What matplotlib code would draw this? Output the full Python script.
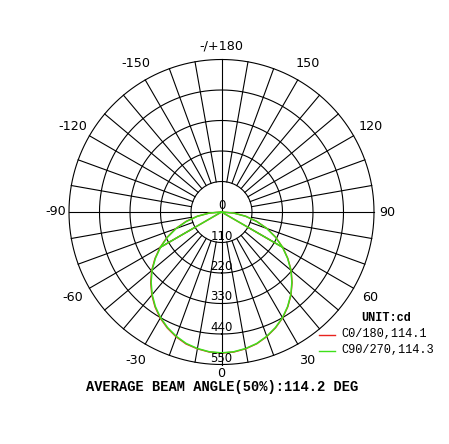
import numpy as np
import matplotlib
matplotlib.use("Agg")
import matplotlib.pyplot as plt

# ---- data ----
angles_deg = [-90, -85, -80, -75, -70, -65, -60, -55, -50, -45, -40, -35, -30, -25, -20, -15, -10, -5,
              0, 5, 10, 15, 20, 25, 30, 35, 40, 45, 50, 55, 60, 65, 70, 75, 80, 85, 90]
c90_values = [0, 44, 88, 131, 174, 215, 254, 291, 327, 359, 389, 416, 440, 460, 477, 491, 500, 506,
              508, 506, 500, 491, 477, 460, 440, 416, 389, 359, 327, 291, 254, 215, 174, 131, 88, 44, 0]
c0_values = [0, 45, 89, 133, 176, 217, 256, 293, 329, 361, 391, 418, 442, 462, 479, 493, 501, 507,
             509, 507, 501, 492, 478, 461, 441, 417, 390, 360, 328, 292, 255, 216, 175, 132, 89, 45, 0]
chord_angles = [-60, 0, 60]
c90_chord = [254, 0, 254]
c0_chord = [256, 0, 255]

ring_values = [110, 220, 330, 440, 550]
angle_labels = [0, 30, 60, 90, 120, 150, 180, -150, -120, -90, -60, -30]
angle_texts = ["0", "30", "60", "90", "120", "150", "-/+180", "-150", "-120", "-90", "-60", "-30"]
legend_names = ["C0/180,114.1", "C90/270,114.3"]
unit_text = "UNIT:cd"
footer = "AVERAGE BEAM ANGLE(50%):114.2 DEG"

RMAX = 550

fig = plt.figure(figsize=(4.49, 4.44), dpi=100)
fig.patch.set_facecolor("white")
ax = fig.add_axes([69 / 449, (232 - 152.5) / 444, 305 / 449, 305 / 444], projection="polar")
ax.set_theta_zero_location("S")
ax.set_theta_direction(1)
ax.set_rlim(0, RMAX)
ax.grid(False)
ax.set_xticks([])
ax.set_yticks([])
ax.spines["polar"].set_visible(False)
ax.patch.set_alpha(0)

grid_kw = dict(color="black", lw=0.8, clip_on=False, zorder=1)
th = np.linspace(0, 2 * np.pi, 721)
for r in ring_values:
    ax.plot(th, np.full_like(th, r), **grid_kw)
for d in range(0, 360, 10):
    t = np.deg2rad(d)
    if d % 90 == 0:
        ax.plot([t, t], [0, RMAX], **grid_kw)
    else:
        ax.plot([t, t], [ring_values[0], RMAX], **grid_kw)

# curves
ax.plot(np.deg2rad(angles_deg), c0_values, color="#e8231e", lw=1.0, clip_on=False, zorder=3)
ax.plot(np.deg2rad(chord_angles), c0_chord, color="#e8231e", lw=1.0, clip_on=False, zorder=3)
ax.plot(np.deg2rad(angles_deg), c90_values, color="#3ee01a", lw=1.1, clip_on=False, zorder=4)
ax.plot(np.deg2rad(chord_angles), c90_chord, color="#3ee01a", lw=1.1, clip_on=False, zorder=4)

# radial labels
ax.text(0, 0, "0", ha="center", va="bottom", fontsize=8.5, color="black", zorder=6,
        family="DejaVu Sans")
for r in ring_values:
    ax.text(0, r, str(r), ha="center", va="bottom", fontsize=8.5, color="black", zorder=6,
            family="DejaVu Sans")

# angle labels
for a, s in zip(angle_labels, angle_texts):
    rr = 598 if a % 90 == 0 else 620
    if a == 0:
        rr = 584
    ax.text(np.deg2rad(a), rr, s, ha="center", va="center", fontsize=9.2, color="black",
            family="DejaVu Sans")

# legend
fig.text(386 / 449, 1 - 318 / 444, unit_text, ha="center", va="center", fontsize=8.6,
         family="Liberation Mono", weight="bold")
fig.add_artist(plt.Line2D([319 / 449, 335 / 449], [1 - 335 / 444] * 2, color="#e8231e", lw=1))
fig.add_artist(plt.Line2D([319 / 449, 335 / 449], [1 - 350.5 / 444] * 2, color="#3ee01a", lw=1))
fig.text(341 / 449, 1 - 334 / 444, legend_names[0], ha="left", va="center", fontsize=8.6,
         family="Liberation Mono")
fig.text(341 / 449, 1 - 349.5 / 444, legend_names[1], ha="left", va="center", fontsize=8.6,
         family="Liberation Mono")

fig.text(222 / 449, 1 - 387 / 444, footer, ha="center", va="center", fontsize=9.9,
         family="Liberation Mono", weight="bold")

fig.savefig("out.png", dpi=100, facecolor="white")
